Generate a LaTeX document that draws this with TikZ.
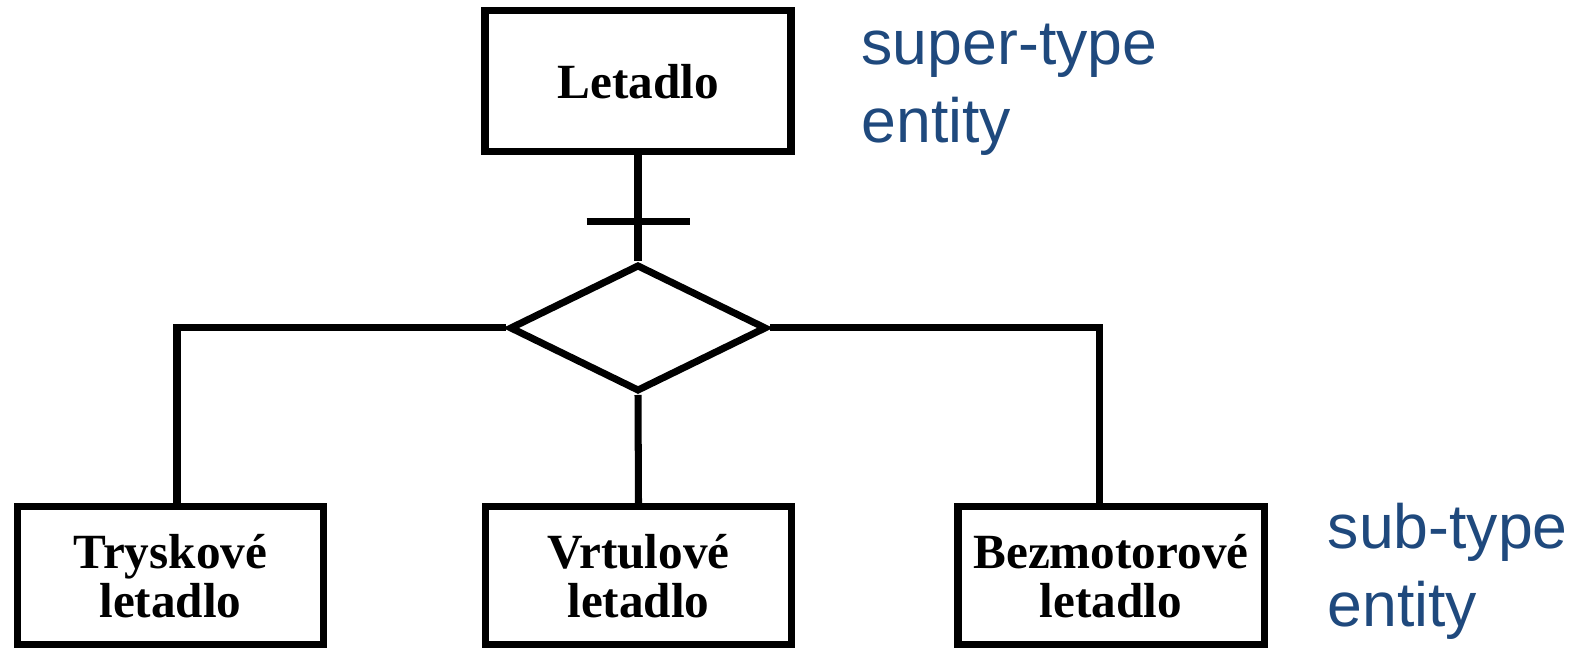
\documentclass[tikz,border=0pt]{standalone}
\usepackage{fontspec}
\setmainfont{Liberation Serif}
\newfontfamily\notefont{Liberation Sans}
\usetikzlibrary{shapes.geometric, calc}
\definecolor{typeblue}{RGB}{31,73,125}

\begin{document}
\begin{tikzpicture}[
	entity/.style = {draw, line width=2pt, minimum width=3.06cm, minimum height=1.38cm, inner sep=0pt, align=center, font=\fontsize{14}{14}\selectfont\bfseries},
	link/.style = {line width=2pt},
	note/.style = {anchor=base west, inner sep=0pt, align=left, text=typeblue, font=\fontsize{17.8}{22.2}\selectfont\notefont}
	]
	
	\useasboundingbox (0,0) rectangle (15.79,6.48);
	
	% super-type and the isa diamond
	\node [entity, minimum height=1.41cm] (plane) at (6.38,5.665) {Letadlo};
	\node [draw, diamond, line width=2pt, minimum width=2.57cm, minimum height=1.27cm, inner sep=0pt] (isa) at (6.38,3.2) {};
	
	% sub-types
	\node [entity] (jet) at (1.705,0.72) {Tryskové\\letadlo};
	\node [entity] (prop) at (6.385,0.72) {Vrtulové\\letadlo};
	\node [entity] (glider) at (11.11,0.72) {Bezmotorové\\letadlo};
	
	\draw [link] (plane) -- (isa);
	\coordinate (bar) at ($(plane.south)!0.63!(isa.north)$);
	\draw [link] ([xshift=-5.15mm]bar) -- ([xshift=5.15mm]bar);
	
	\draw [link] (isa.west) -| ([xshift=0.65mm]jet.north);
	\draw [link] (isa.south) -- (prop.north);
	\draw [link] (isa.east) -| ([xshift=-1.2mm]glider.north);
	
	% base anchor sits on the last line
	\node [note] (super) at (8.61,5.05) {super-type\\entity};
	\node [note] (sub) at (13.27,0.21) {sub-type\\entity};
	
\end{tikzpicture}
\end{document}
